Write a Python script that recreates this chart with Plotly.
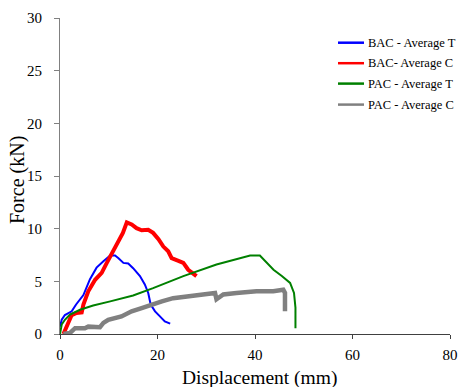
import plotly.graph_objects as go

# BAC - Average T (blue)
bac_t_x = [0, 0.35, 1.0, 2.4, 3.3, 4.8, 6.15, 7.5, 8.9, 10.3, 11.3, 12.0, 13.0, 14.0, 15.0, 16.4, 17.4, 18.1, 18.6, 19.5, 20.5, 21.5, 22.6]
bac_t_y = [0.7, 1.36, 1.8, 2.15, 2.8, 3.7, 5.2, 6.3, 6.9, 7.45, 7.45, 7.2, 6.75, 6.7, 6.25, 5.5, 4.7, 3.9, 2.8, 2.15, 1.67, 1.2, 0.98]

# BAC- Average C (red)
bac_c_x = [0.7, 1.7, 2.4, 3.4, 4.45, 4.8, 5.8, 7.2, 8.55, 9.6, 10.9, 12.0, 12.9, 13.7, 14.7, 15.7, 16.75, 18.1, 19.1, 20.2, 21.2, 22.2, 22.9, 24.3, 25.3, 26.3, 27.3, 28.0]
bac_c_y = [0.0, 1.0, 1.8, 2.0, 2.05, 2.8, 4.05, 5.15, 5.8, 6.75, 7.85, 8.95, 9.6, 10.6, 10.4, 10.05, 9.85, 9.9, 9.6, 9.0, 8.3, 7.85, 7.2, 6.95, 6.75, 6.1, 5.7, 5.5]

# PAC - Average T (green)
pac_t_x = [0, 0.35, 1.0, 2.05, 4.1, 6.8, 10.3, 15.0, 19.1, 25.3, 32.1, 35.5, 39.0, 41.0, 42.4, 43.8, 45.5, 47.2, 48.0, 48.3, 48.3]
pac_t_y = [0, 0.9, 1.35, 1.85, 2.3, 2.7, 3.1, 3.65, 4.35, 5.5, 6.6, 7.05, 7.45, 7.45, 6.75, 6.1, 5.5, 4.85, 3.9, 2.5, 0.55]

# PAC - Average C (gray)
pac_c_x = [0.7, 2.05, 3.1, 5.1, 5.8, 8.2, 8.9, 9.9, 12.6, 14.7, 16.75, 18.8, 20.9, 23.2, 25.3, 28.7, 31.8, 32.1, 33.5, 36.2, 40.3, 43.75, 45.8, 46.15, 46.15]
pac_c_y = [0.0, 0.1, 0.55, 0.55, 0.7, 0.65, 1.05, 1.35, 1.67, 2.15, 2.45, 2.8, 3.1, 3.4, 3.5, 3.75, 3.9, 3.3, 3.75, 3.9, 4.05, 4.05, 4.2, 3.9, 2.15]

series_names = ["BAC - Average T", "BAC- Average C", "PAC - Average T", "PAC - Average C"]
x_ticks = [0, 20, 40, 60, 80]
y_ticks = [0, 5, 10, 15, 20, 25, 30]
x_title = "Displacement (mm)"
y_title = "Force (kN)"

colors = ["#0000FF", "#FF0000", "#008000", "#808080"]
widths = [2, 4, 2, 4.5]
xs_all = [bac_t_x, bac_c_x, pac_t_x, pac_c_x]
ys_all = [bac_t_y, bac_c_y, pac_t_y, pac_c_y]

fig = go.Figure()
for name, xs, ys, col, w in zip(series_names, xs_all, ys_all, colors, widths):
    fig.add_trace(go.Scatter(x=xs, y=ys, mode="lines", name=name,
                             line=dict(color=col, width=w), showlegend=False))

font = "Liberation Serif, Times New Roman, serif"

# plot area in pixels: 60..450 (x), 18..334 (y)
L, T, W, H = 60.0, 18.0, 390.0, 316.0
def px(xp):
    return (xp - L) / W
def py(yp):
    return (T + H - yp) / H

# manual legend
leg_rows = [42.7, 63.2, 83.6, 104.6]
for name, col, yrow in zip(series_names, colors, leg_rows):
    fig.add_shape(type="line", xref="paper", yref="paper",
                  x0=px(338), x1=px(364), y0=py(yrow), y1=py(yrow),
                  line=dict(color=col, width=2.5))
    fig.add_annotation(xref="paper", yref="paper", x=px(366), y=py(yrow),
                       xanchor="left", yanchor="middle", showarrow=False,
                       text=name, font=dict(family=font, size=12.5, color="black"))

# axis titles
fig.add_annotation(xref="paper", yref="paper", x=px(259), y=py(378),
                   xanchor="center", yanchor="middle", showarrow=False,
                   text=x_title, font=dict(family=font, size=19.5, color="black"))
fig.add_annotation(xref="paper", yref="paper", x=px(17), y=py(180),
                   xanchor="center", yanchor="middle", showarrow=False, textangle=-90,
                   text=y_title, font=dict(family=font, size=20, color="black"))

fig.update_layout(
    width=458, height=387,
    margin=dict(l=60, r=8, t=18, b=53, autoexpand=False),
    paper_bgcolor="white", plot_bgcolor="white",
    font=dict(family=font, color="black", size=14),
    showlegend=False,
    xaxis=dict(range=[0, 80], tickvals=x_ticks, ticks="outside", ticklen=4,
               tickcolor="#404040", showline=True, linecolor="#404040", linewidth=1,
               showgrid=False, zeroline=False,
               tickfont=dict(family=font, size=15, color="black"),
               ticklabelstandoff=3),
    yaxis=dict(range=[0, 30], tickvals=y_ticks, ticks="outside", ticklen=5,
               tickcolor="#808080", showline=True, linecolor="#808080", linewidth=1,
               showgrid=False, zeroline=False,
               tickfont=dict(family=font, size=15, color="black"),
               ticklabelstandoff=9),
)

fig.write_html("out.html")
